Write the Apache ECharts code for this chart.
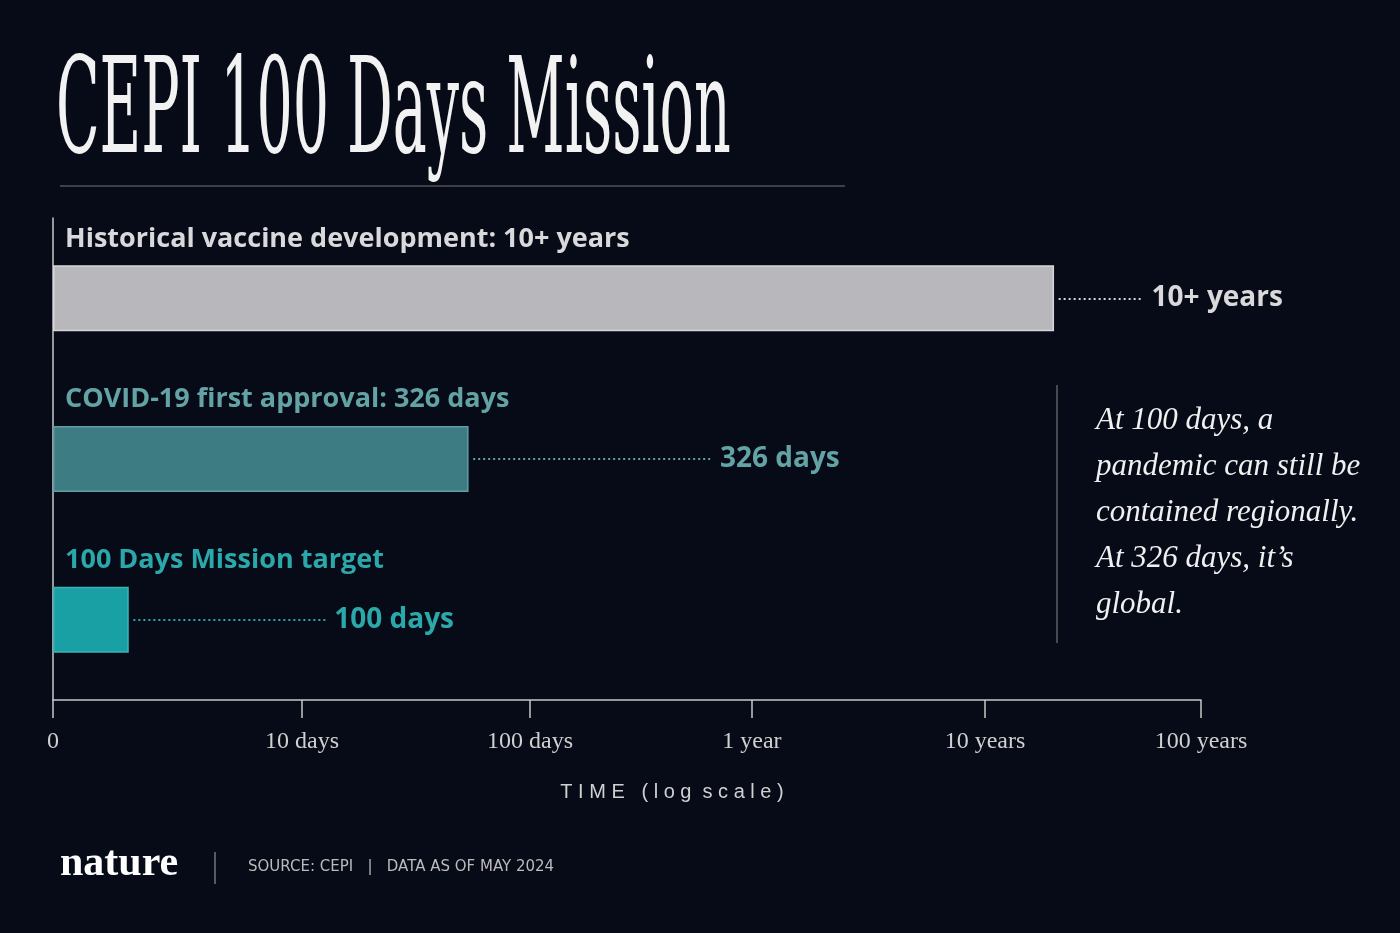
<!DOCTYPE html>
<html><head><meta charset="utf-8">
<script src="https://cdn.jsdelivr.net/npm/echarts@6/dist/echarts.min.js"></script>
<style>html,body{margin:0;background:#070b17}#c{width:1400px;height:933px}</style>
</head><body><div id="c"></div>
<script>
// categories (top to bottom)
const categories = ['Historical vaccine development: 10+ years', 'COVID-19 first approval: 326 days', '100 Days Mission target'];
const endLabels = ['10+ years', '326 days', '100 days'];
// bar lengths, in axis-position units (0..5)
const values = [4.36, 1.81, 0.33];
const leaderLen = [0.37, 1.04, 0.84];
const tickLabels = ['0', '10 days', '100 days', '1 year', '10 years', '100 years'];
const tickPositions = [0, 1.085, 2.078, 3.044, 4.059, 5];
const barColors = ['#b8b8bc', '#3e7c84', '#19a0a4'];
const borderColors = ['#d6d6d8', '#5f9ea3', '#3fb3b5'];
const textColors = ['#d9d9db', '#63a3a6', '#2aa8aa'];

const chart = echarts.init(document.getElementById('c'));
const data = values.map((v, i) => ({
  value: v,
  itemStyle: {color: barColors[i], borderColor: borderColors[i], borderWidth: 1.5},
  label: {show: true, formatter: categories[i], position: [12, -40], color: textColors[i],
          fontFamily: 'Open Sans', fontWeight: 'bold', fontSize: 27}
}));
const mlData = values.map((v, i) => [
  {coord: [v + 0.02, i], lineStyle: {color: textColors[i]}},
  {coord: [v + 0.02 + leaderLen[i], i], label: {show: true, position: 'end', formatter: endLabels[i],
     color: textColors[i], fontFamily: 'Open Sans', fontWeight: 'bold', fontSize: 28, distance: 8}}
]);
chart.setOption({
  backgroundColor: '#070b17',
  animation: false,
  grid: {left: 53, right: 199, top: 218, bottom: 233},
  xAxis: {type: 'value', min: 0, max: 5,
    axisLine: {show: true, lineStyle: {color: '#c8c8c8', width: 1.5}},
    axisTick: {show: true, length: 18, customValues: tickPositions, lineStyle: {color: '#c8c8c8', width: 1.5}},
    splitLine: {show: false},
    axisLabel: {customValues: tickPositions, formatter: v => tickLabels[tickPositions.indexOf(v)],
      color: '#d0d0d0', fontFamily: 'Liberation Serif', fontSize: 24, margin: 30},
    name: 'T I M E   ( l o g  s c a l e )', nameLocation: 'middle', nameGap: 82,
    nameTextStyle: {color: '#d0d0d0', fontFamily: 'Liberation Sans', fontSize: 20, padding: [0, 0, 0, 90]}
  },
  yAxis: {type: 'category', data: categories, inverse: true,
    axisLine: {show: true, lineStyle: {color: '#c8c8c8', width: 1.5}},
    axisTick: {show: false}, axisLabel: {show: false}},
  series: [{type: 'bar', data: data, barWidth: 66,
    markLine: {symbol: 'none', silent: true, data: mlData,
      lineStyle: {type: [2, 3], width: 2}, label: {show: false}}}],
  graphic: [
    {type: 'text', left: 56, top: 52, scaleX: 0.48, style: {text: 'CEPI 100 Days Mission', fill: '#f2f2f2',
      font: '132px "DejaVu Serif Condensed", "DejaVu Serif"'}},
    {type: 'line', shape: {x1: 60, y1: 186, x2: 845, y2: 186}, style: {stroke: '#777', lineWidth: 1}},
    {type: 'line', shape: {x1: 1057, y1: 385, x2: 1057, y2: 643}, style: {stroke: '#888', lineWidth: 1}},
    {type: 'text', left: 1096, top: 398, style: {text: 'At 100 days, a\npandemic can still be\ncontained regionally.\nAt 326 days, it\u2019s\nglobal.',
      fill: '#f0f0f0', font: 'italic 31px "Liberation Serif"', lineHeight: 46}},
    {type: 'text', left: 60, top: 843, style: {text: 'nature', fill: '#ffffff', font: 'bold 42px "Liberation Serif"'}},
    {type: 'line', shape: {x1: 215, y1: 852, x2: 215, y2: 884}, style: {stroke: '#aaa', lineWidth: 1}},
    {type: 'text', left: 248, top: 860, style: {text: 'SOURCE: CEPI   |   DATA AS OF MAY 2024', fill: '#bbbbbb',
      font: '15px "DejaVu Sans"'}}
  ]
});
</script></body></html>
